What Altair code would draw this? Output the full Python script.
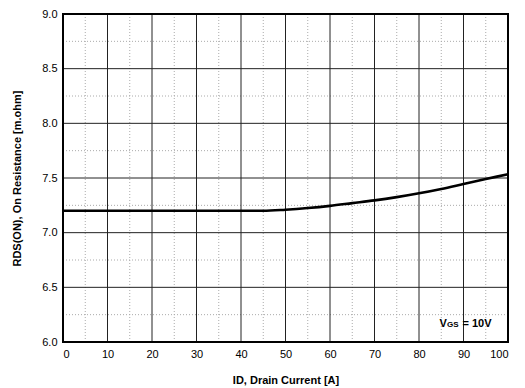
import altair as alt
import pandas as pd

# Data
drain_current = [0, 10, 20, 30, 40, 45, 50, 55, 60, 65, 70, 75, 80, 85, 90, 95, 100]
r_on = [7.20, 7.20, 7.20, 7.20, 7.20, 7.20, 7.21, 7.225, 7.245, 7.27, 7.295, 7.325, 7.36, 7.40, 7.445, 7.49, 7.535]

x_major = [10, 20, 30, 40, 50, 60, 70, 80, 90]
x_minor = [5, 15, 25, 35, 45, 55, 65, 75, 85, 95]
y_major = [6.5, 7.0, 7.5, 8.0, 8.5]
y_minor = [6.25, 6.75, 7.25, 7.75, 8.25, 8.75]
x_frame = [0, 100]
y_frame = [6.0, 9.0]
x_ticks = [0, 10, 20, 30, 40, 50, 60, 70, 80, 90, 100]
y_ticks = [6.0, 6.5, 7.0, 7.5, 8.0, 8.5, 9.0]

FONT = "Liberation Sans"

xs = alt.Scale(domain=[0, 100], nice=False)
ys = alt.Scale(domain=[6.0, 9.0], nice=False)

curve_df = pd.DataFrame({"x": drain_current, "y": r_on})

x_axis = alt.Axis(values=x_ticks, grid=False, ticks=False, domain=False,
                  labelFont=FONT, labelFontSize=11, labelColor="#000",
                  labelPadding=6, title="ID, Drain Current [A]",
                  titleFont=FONT, titleFontSize=11, titleFontWeight="bold",
                  titleColor="#000", titlePadding=15)
y_axis = alt.Axis(values=y_ticks, grid=False, ticks=False, domain=False, format=".1f",
                  labelFont=FONT, labelFontSize=11, labelColor="#000",
                  labelPadding=6, title="RDS(ON), On Resistance [m.ohm]",
                  titleFont=FONT, titleFontSize=11, titleFontWeight="bold",
                  titleColor="#000", titlePadding=19)

minor_x = alt.Chart(pd.DataFrame({"gx": x_minor})).mark_rule(
    color="#aaaaaa", strokeDash=[1, 2], strokeWidth=1
).encode(x=alt.X("gx:Q", scale=xs))
minor_y = alt.Chart(pd.DataFrame({"gy": y_minor})).mark_rule(
    color="#aaaaaa", strokeDash=[1, 2], strokeWidth=1
).encode(y=alt.Y("gy:Q", scale=ys))
major_x = alt.Chart(pd.DataFrame({"mx": x_major})).mark_rule(
    color="#222222", strokeWidth=1
).encode(x=alt.X("mx:Q", scale=xs))
major_y = alt.Chart(pd.DataFrame({"my": y_major})).mark_rule(
    color="#222222", strokeWidth=1
).encode(y=alt.Y("my:Q", scale=ys))
frame = alt.Chart(pd.DataFrame({"x0": [x_frame[0]], "x1": [x_frame[1]],
                                "y0": [y_frame[0]], "y1": [y_frame[1]]})).mark_rect(
    fillOpacity=0, stroke="#000000", strokeWidth=2
).encode(x=alt.X("x0:Q", scale=xs), x2="x1:Q", y=alt.Y("y0:Q", scale=ys), y2="y1:Q")

curve = alt.Chart(curve_df).mark_line(color="#000", strokeWidth=2.6, interpolate="monotone").encode(
    x=alt.X("x:Q", scale=xs, axis=x_axis),
    y=alt.Y("y:Q", scale=ys, axis=y_axis),
)

# annotation V_GS = 10V
ann_x = [84.6]
ann_y = [6.14]
ann_df = pd.DataFrame({"x": ann_x, "y": ann_y})
ann_v = alt.Chart(ann_df).mark_text(
    text="V", font=FONT, fontSize=11, fontWeight="bold", align="left", baseline="alphabetic", color="#000"
).encode(x=alt.X("x:Q", scale=xs), y=alt.Y("y:Q", scale=ys))
ann_gs = alt.Chart(ann_df).mark_text(
    text="GS", font=FONT, fontSize=8, fontWeight="bold", align="left", baseline="alphabetic", color="#000",
    dx=7.5
).encode(x=alt.X("x:Q", scale=xs), y=alt.Y("y:Q", scale=ys))
ann_rest = alt.Chart(ann_df).mark_text(
    text="= 10V", font=FONT, fontSize=11, fontWeight="bold", align="left", baseline="alphabetic", color="#000",
    dx=23
).encode(x=alt.X("x:Q", scale=xs), y=alt.Y("y:Q", scale=ys))

chart = alt.layer(minor_x, minor_y, major_x, major_y, curve, frame, ann_v, ann_gs, ann_rest).properties(
    width=445, height=328,
    background="white",
    autosize=alt.AutoSizeParams(type="none"),
    padding={"left": 63, "top": 14, "right": 17, "bottom": 46},
).configure_view(stroke="#000000", strokeWidth=2)

chart.save("out.html", embed_options={"renderer": "svg", "actions": False})
